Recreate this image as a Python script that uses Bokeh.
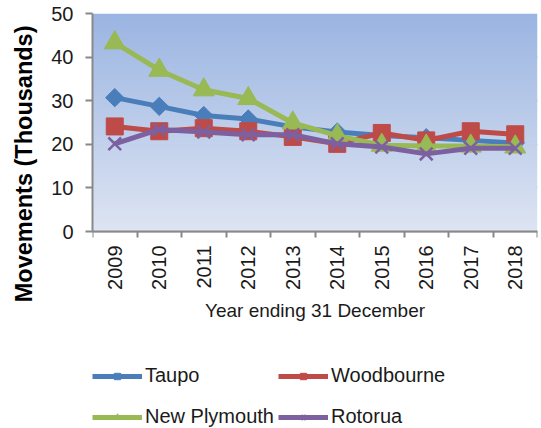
import numpy as np
from math import pi
from bokeh.plotting import figure
from bokeh.models import FixedTicker, Legend, LegendItem, Title, Range1d, ColumnDataSource
from bokeh.core.properties import value
from bokeh.embed import file_html
from bokeh.resources import INLINE

years = [2009, 2010, 2011, 2012, 2013, 2014, 2015, 2016, 2017, 2018]
taupo = [30.7, 28.7, 26.6, 25.8, 24.0, 22.8, 22.0, 21.5, 20.9, 20.3]
woodbourne = [24.1, 23.0, 23.7, 23.0, 21.7, 20.1, 22.6, 20.9, 23.0, 22.3]
new_plymouth = [43.3, 37.0, 32.5, 30.5, 24.9, 22.0, 19.8, 19.6, 19.6, 19.4]
rotorua = [20.1, 23.4, 22.8, 22.2, 22.2, 20.1, 19.4, 17.8, 19.1, 19.1]
y_ticks = [0, 10, 20, 30, 40, 50]
x_title = "Year ending 31 December"
y_title = "Movements (Thousands)"

series = [
    ("Taupo", taupo, "#4A7EBB", "square", 13, np.pi / 4),
    ("Woodbourne", woodbourne, "#BE4B48", "square", 17, 0.0),
    ("New Plymouth", new_plymouth, "#98B954", "triangle", 21, 0.0),
    ("Rotorua", rotorua, "#7D60A0", "x", 18, 0.0),
]

# layout (pixels)
W, H = 541, 428
FL, FT = 91, 13
PLOT_BOTTOM_PX = 231                    # where value 0 sits
frame_bottom = H
y0, y1 = y_ticks[0], y_ticks[-1]
px_per_unit = (PLOT_BOTTOM_PX - FT) / (y1 - y0)
y_start = y0 - (frame_bottom - PLOT_BOTTOM_PX) / px_per_unit
x0, x1 = years[0] - 0.5, years[-1] + 0.5

p = figure(width=W, height=H, output_backend="svg", toolbar_location=None,
           x_range=Range1d(x0, x1), y_range=Range1d(y_start, y1),
           x_axis_location="above",
           min_border_left=FL, min_border_right=4, min_border_top=FT,
           min_border_bottom=0)
p.outline_line_color = None
p.background_fill_color = "white"
p.border_fill_color = "white"

# gradient background of plot area
N = 256
img = np.empty((N, 1), dtype=np.uint32)
view = img.view(dtype=np.uint8).reshape((N, 1, 4))
t = np.linspace(0, 1, N)
bot = np.array([222, 229, 243])
top = np.array([155, 181, 226])
for k in range(3):
    view[:, 0, k] = (bot[k] + (top[k] - bot[k]) * t).astype(np.uint8)
view[:, 0, 3] = 255
p.image_rgba(image=[img], x=x0, y=y0, dw=x1 - x0, dh=y1 - y0)

gray = "#888888"
txt = "#1a1a1a"
p.yaxis.ticker = FixedTicker(ticks=y_ticks)
p.yaxis.bounds = (y0, y1)
p.yaxis.axis_line_color = gray
p.yaxis.axis_line_width = 2
p.yaxis.major_tick_line_color = gray
p.yaxis.major_tick_line_width = 2
p.yaxis.major_tick_out = 7
p.yaxis.major_tick_in = 0
p.yaxis.minor_tick_line_color = None
p.yaxis.major_label_standoff = 12
p.yaxis.major_label_text_font = "Liberation Sans"
p.yaxis.major_label_text_font_size = "20px"
p.yaxis.major_label_text_color = txt

# x axis rule at value 0, category boundary ticks pointing down
p.xaxis.fixed_location = y0
p.xaxis.ticker = FixedTicker(ticks=[], minor_ticks=[y - 0.5 for y in years] + [years[-1] + 0.5])
p.xaxis.axis_line_color = gray
p.xaxis.axis_line_width = 2
p.xaxis.major_tick_out = 0
p.xaxis.major_tick_in = 0
p.xaxis.minor_tick_out = 0
p.xaxis.minor_tick_in = 6
p.xaxis.minor_tick_line_color = gray
p.xaxis.minor_tick_line_width = 2

p.xgrid.grid_line_color = None
p.ygrid.grid_line_color = gray
p.ygrid.grid_line_width = 1.5

# year labels (vertical) and x axis title
lab_src = ColumnDataSource(dict(x=years, y=[y0] * len(years), t=[str(v) for v in years]))
p.text(x="x", y="y", text="t", source=lab_src, angle=pi / 2, y_offset=14,
       text_align="right", text_baseline="middle", text_font=value("Liberation Sans"),
       text_font_size="20px", text_color=txt)
p.text(x=[(x0 + x1) / 2], y=[y0], text=[x_title], y_offset=68,
       text_align="center", text_baseline="top", text_font=value("Liberation Sans"),
       text_font_size="19px", text_color=txt)

p.add_layout(Title(text=y_title, align="right", vertical_align="top", offset=12,
                   text_font="Liberation Sans", text_font_style="bold",
                   text_font_size="23.5px", text_color="black", standoff=20), "left")

items = {}
for name, vals, color, marker, size, ang in series:
    r1 = p.line(years, vals, line_width=5, line_color=color)
    lw = 2.5 if marker == "x" else 1
    r2 = p.scatter(years, vals, marker=marker, size=size, angle=ang,
                   fill_color=color, line_color=color, line_width=lw)
    items[name] = LegendItem(label=name, renderers=[r1, r2])

def make_legend(its, xloc):
    return Legend(items=its, location=(xloc, 0), orientation="vertical",
                  glyph_width=50, glyph_height=16, label_height=16, spacing=18,
                  label_standoff=3, padding=0, margin=0,
                  border_line_color=None, background_fill_alpha=0,
                  label_text_font="Liberation Sans", label_text_font_size="20px",
                  label_text_color=txt)

p.add_layout(make_legend([items["Taupo"], items["New Plymouth"]], 0), "center")
p.add_layout(make_legend([items["Woodbourne"], items["Rotorua"]], 186), "center")

open("out.html", "w").write(file_html(p, INLINE))
